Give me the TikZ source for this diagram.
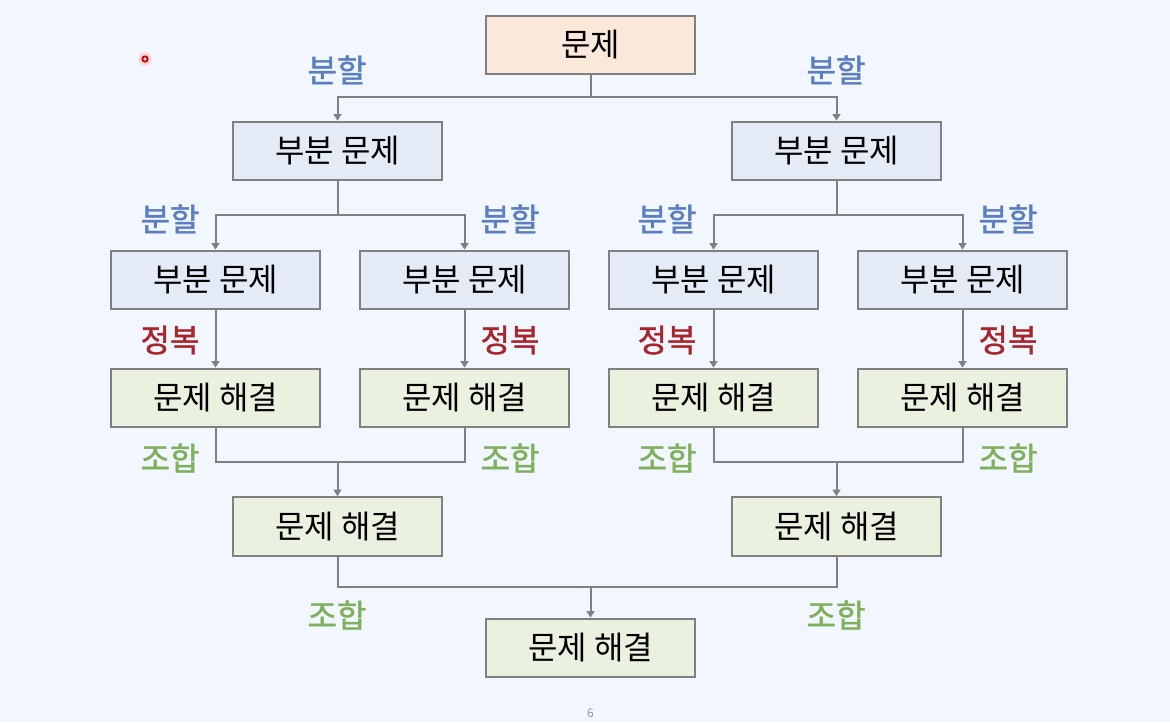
\documentclass[tikz,border=0pt]{standalone}
\usepackage{fontspec}
\setmainfont{Noto Sans CJK KR}
\newfontfamily\lblfont[FakeBold=1.3]{Noto Sans CJK KR}
\usetikzlibrary{arrows.meta}
\definecolor{bgc}{HTML}{F2F6FE}
\definecolor{lblblue}{HTML}{5A7EC2}
\definecolor{lblred}{HTML}{A8262B}
\definecolor{lblgreen}{HTML}{7FB05C}
\definecolor{peach}{HTML}{FAE8DB}
\definecolor{bluefill}{HTML}{E4EBF6}
\definecolor{greenfill}{HTML}{EBF1DF}
\definecolor{edgegray}{HTML}{808080}
\tikzset{
  box/.style={draw=edgegray, line width=1.5pt, minimum width=157pt, minimum height=44pt, inner sep=0pt, font=\fontsize{24}{27}\selectfont},
  topbox/.style={box, fill=peach},
  subbox/.style={box, fill=bluefill},
  solbox/.style={box, fill=greenfill},
  conn/.style={draw=edgegray, line width=1.5pt},
  arr/.style={conn, -{Triangle[width=6pt,length=5pt]}},
  lbl/.style={font=\lblfont\fontsize{24}{27}\selectfont, inner sep=0pt},
  divlbl/.style={lbl, text=lblblue},
  conqlbl/.style={lbl, text=lblred},
  comblbl/.style={lbl, text=lblgreen}
}
\begin{document}
\begin{tikzpicture}[x=0.75pt,y=-0.75pt]
\fill[bgc] (0,0) rectangle (1170,722);
\useasboundingbox (0,0) rectangle (1170,722);
% pointer dot
\fill[red!20, opacity=0.8] (145,59) circle[radius=5pt];
\draw[red!75!black, line width=1.3pt] (145,59) circle[radius=2pt];

% nodes
\node[topbox] (top) at (590.5,45) {문제};
\node[subbox] (pA) at (337.5,151) {부분 문제};
\node[subbox] (pB) at (836.5,151) {부분 문제};
\node[subbox] (pA1) at (215.5,280) {부분 문제};
\node[subbox] (pA2) at (464.5,280) {부분 문제};
\node[subbox] (pB1) at (713.5,280) {부분 문제};
\node[subbox] (pB2) at (962.5,280) {부분 문제};
\node[solbox] (sA1) at (215.5,398) {문제 해결};
\node[solbox] (sA2) at (464.5,398) {문제 해결};
\node[solbox] (sB1) at (713.5,398) {문제 해결};
\node[solbox] (sB2) at (962.5,398) {문제 해결};
\node[solbox] (sA) at (337.5,526.5) {문제 해결};
\node[solbox] (sB) at (836.5,526.5) {문제 해결};
\node[solbox] (sAll) at (590.5,648) {문제 해결};

% junction coordinates
\coordinate (j0) at (590.5,97);
\coordinate (jA) at (337.5,215);
\coordinate (jB) at (836.5,215);
\coordinate (kA) at (337.5,462);
\coordinate (kB) at (836.5,462);
\coordinate (k0) at (590.5,587);

% divide
\draw[conn] (top) -- (j0);
\draw[arr] (j0) -| (pA);
\draw[arr] (j0) -| (pB);
\draw[conn] (pA) -- (jA);
\draw[arr] (jA) -| (pA1);
\draw[arr] (jA) -| (pA2);
\draw[conn] (pB) -- (jB);
\draw[arr] (jB) -| (pB1);
\draw[arr] (jB) -| (pB2);
% conquer
\draw[arr] (pA1) -- (sA1);
\draw[arr] (pA2) -- (sA2);
\draw[arr] (pB1) -- (sB1);
\draw[arr] (pB2) -- (sB2);
% combine
\draw[conn] (sA1) |- (kA) -| (sA2);
\draw[arr] (kA) -- (sA);
\draw[conn] (sB1) |- (kB) -| (sB2);
\draw[arr] (kB) -- (sB);
\draw[conn] (sA) |- (k0) -| (sB);
\draw[arr] (k0) -- (sAll);

% labels
\node[divlbl] (d1) at (337,70) {분할};
\node[divlbl] (d2) at (836,70) {분할};
\node[divlbl] (d3) at (170,219) {분할};
\node[divlbl] (d4) at (510,219) {분할};
\node[divlbl] (d5) at (667,219) {분할};
\node[divlbl] (d6) at (1008,219) {분할};
\node[conqlbl] (c1) at (170,340) {정복};
\node[conqlbl] (c2) at (510,340) {정복};
\node[conqlbl] (c3) at (667,340) {정복};
\node[conqlbl] (c4) at (1008,340) {정복};
\node[comblbl] (m1) at (170,458) {조합};
\node[comblbl] (m2) at (510,458) {조합};
\node[comblbl] (m3) at (667,458) {조합};
\node[comblbl] (m4) at (1008,458) {조합};
\node[comblbl] (m5) at (337,615) {조합};
\node[comblbl] (m6) at (836,615) {조합};

\node[text=gray!80, font=\fontsize{9}{10}\selectfont] (pg) at (590.5,713) {6};
\end{tikzpicture}
\end{document}
